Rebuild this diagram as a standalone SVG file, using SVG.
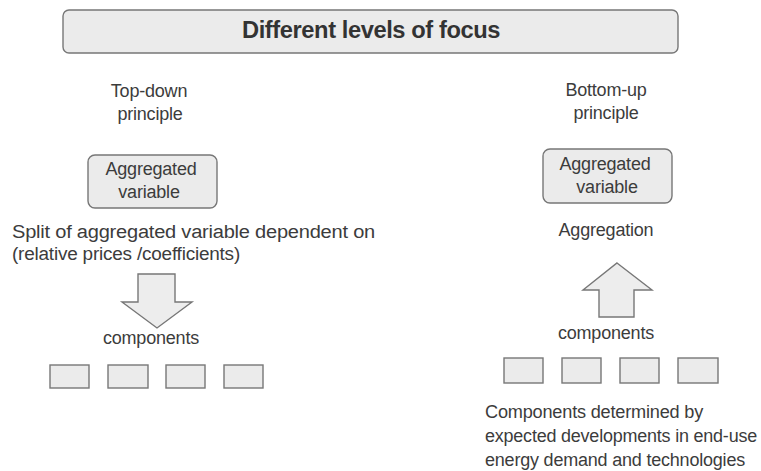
<svg xmlns="http://www.w3.org/2000/svg" width="761" height="471" viewBox="0 0 761 471">
<style>
  text { font-family: "Liberation Sans", Arial, sans-serif; fill: #3c3c3c; font-size: 18px; letter-spacing: -0.2px; }
  .c { text-anchor: middle; }
  .title { font-size: 23px; font-weight: bold; fill: #333; letter-spacing: -0.4px; }
  .box { fill: #ebebeb; stroke: #777; stroke-width: 1.4; }
  .arrow { fill: #ededed; stroke: #777; stroke-width: 1.4; stroke-linejoin: miter; }
</style>
<rect width="761" height="471" fill="#fff"/>
<g id="title">
  <rect x="63" y="10" width="615" height="43" rx="6" class="box" stroke-width="2"/>
  <text x="242" y="38" class="title" textLength="258" lengthAdjust="spacingAndGlyphs">Different levels of focus</text>
</g>
<g id="topdown-label">
  <text x="149" y="97" class="c">Top-down</text>
  <text x="150" y="120" class="c">principle</text>
</g>
<g id="bottomup-label">
  <text x="606" y="96" class="c">Bottom-up</text>
  <text x="606" y="119" class="c">principle</text>
</g>
<g id="agg-left">
  <rect x="88" y="155" width="129" height="53" rx="7" class="box"/>
  <text x="151" y="175" class="c">Aggregated</text>
  <text x="149" y="198" class="c">variable</text>
</g>
<g id="agg-right">
  <rect x="543" y="149" width="129" height="54" rx="7" class="box"/>
  <text x="605" y="170" class="c">Aggregated</text>
  <text x="607" y="193" class="c">variable</text>
</g>
<g id="split-text">
  <text x="12" y="238" textLength="363" lengthAdjust="spacingAndGlyphs">Split of aggregated variable dependent on</text>
  <text x="12" y="260" textLength="228" lengthAdjust="spacingAndGlyphs">(relative prices /coefficients)</text>
</g>
<g id="aggregation-text">
  <text x="606" y="236" class="c">Aggregation</text>
</g>
<g id="connectors">
  <polygon class="arrow" points="138,274 175,274 175,302 192,302 157,328 122,302 138,302"/>
  <polygon class="arrow" points="617,263 652,290 634,290 634,317 599,317 599,290 583,290"/>
</g>
<g id="components-left">
  <text x="151" y="344" class="c">components</text>
  <rect x="50" y="365" width="39" height="23" class="box"/>
  <rect x="108" y="365" width="40" height="23" class="box"/>
  <rect x="166" y="365" width="39" height="23" class="box"/>
  <rect x="224" y="365" width="39" height="23" class="box"/>
</g>
<g id="components-right">
  <text x="606" y="339" class="c">components</text>
  <rect x="504" y="358" width="39" height="25" class="box"/>
  <rect x="562" y="358" width="39" height="25" class="box"/>
  <rect x="620" y="358" width="39" height="25" class="box"/>
  <rect x="678" y="358" width="40" height="25" class="box"/>
</g>
<g id="components-note">
  <text x="485" y="418" textLength="218" lengthAdjust="spacingAndGlyphs">Components determined by</text>
  <text x="485" y="442" textLength="272" lengthAdjust="spacingAndGlyphs">expected developments in end-use</text>
  <text x="485" y="466" textLength="260" lengthAdjust="spacingAndGlyphs">energy demand and technologies</text>
</g>
</svg>
